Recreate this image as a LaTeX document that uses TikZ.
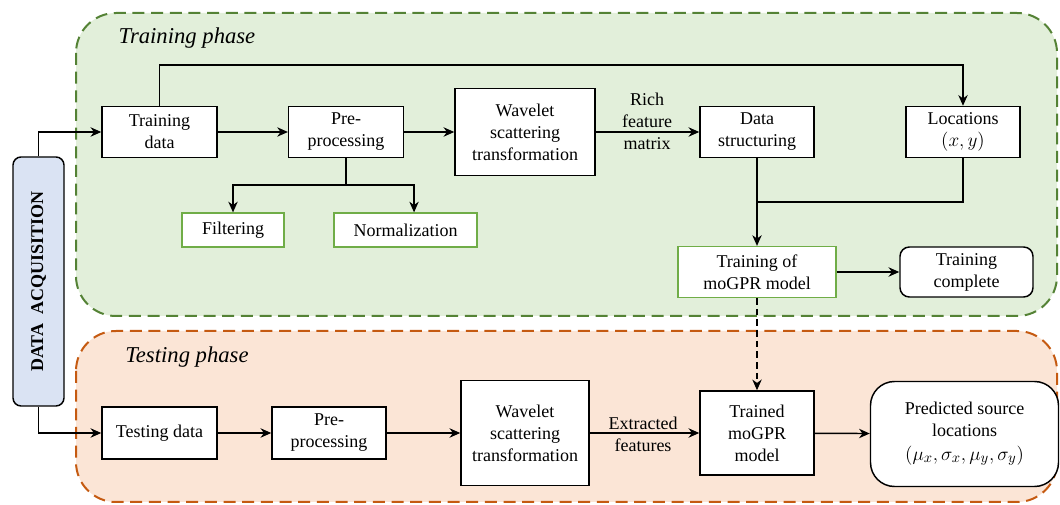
\documentclass[tikz,border=0pt]{standalone}
\usepackage{fontspec}
\setmainfont{Liberation Serif}
\usetikzlibrary{arrows.meta}
\definecolor{trainfill}{HTML}{E2EFDA}
\definecolor{traindraw}{HTML}{548235}
\definecolor{testfill}{HTML}{FBE5D6}
\definecolor{testdraw}{HTML}{C55A11}
\definecolor{acqfill}{HTML}{DAE3F3}
\definecolor{subdraw}{HTML}{70AD47}
\tikzset{
  phase/.style={line width=1.5pt, dash pattern=on 9pt off 5pt, rounded corners=30pt},
  blk/.style={draw=black, fill=white, line width=1.1pt, align=center, inner sep=2pt,
    font=\fontsize{13.5}{16.5}\selectfont},
  subblk/.style={blk, draw=subdraw, line width=0.9pt},
  endblk/.style={blk, rounded corners=7pt},
  conn/.style={line width=1.1pt, -{Stealth[length=8pt,width=7pt,inset=2.5pt]}},
  wire/.style={line width=1.1pt},
  lbl/.style={align=center, font=\fontsize{13.5}{16.5}\selectfont},
  ttl/.style={font=\fontsize{17}{20}\selectfont\itshape},
}
\begin{document}
\begin{tikzpicture}[x=0.75pt,y=-0.75pt]
\useasboundingbox (0,0) rectangle (1060,505);

% phase panels
\draw[phase, draw=traindraw, fill=trainfill] (76,13) rectangle (1057,316);
\draw[phase, draw=testdraw, fill=testfill] (76,331) rectangle (1057,502);
\node[ttl] (ttrain) at (187,38) {Training phase};
\node[ttl] (ttest) at (187,357) {Testing phase};

% data acquisition
\node[draw=black, fill=acqfill, line width=1.1pt, rounded corners=6pt,
  minimum width=38.25pt, minimum height=186.75pt, inner sep=0pt,
  font=\fontsize{13.5}{16.5}\selectfont\bfseries] (da) at (38.5,281.5)
  {\rotatebox{90}{DATA\ \ ACQUISITION}};

% training row
\node[blk, minimum width=86.25pt, minimum height=38.25pt] (train) at (159.5,132) {Training\\data};
\node[blk, minimum width=86pt, minimum height=38.25pt] (prep) at (346,132) {Pre-\\processing};
\node[blk, minimum width=105pt, minimum height=65.25pt] (wst) at (525,132) {Wavelet\\scattering\\transformation};
\node[blk, minimum width=85.5pt, minimum height=38.25pt] (dstruct) at (757,132) {Data\\structuring};
\node[blk, minimum width=85.5pt, minimum height=38.25pt] (loc) at (963,132) {Locations\\$(x,y)$};
\node[subblk, minimum width=76.5pt, minimum height=25.5pt] (filt) at (233,230) {Filtering};
\node[subblk, minimum width=107.25pt, minimum height=25.5pt] (norm) at (405.5,230) {Normalization};
\node[subblk, minimum width=118.5pt, minimum height=38.25pt] (trmod) at (757,272) {Training of\\moGPR model};
\node[endblk, minimum width=99.75pt, minimum height=37.5pt] (trcomp) at (966.5,272) {Training\\complete};

% testing row
\node[blk, minimum width=86.25pt, minimum height=39pt] (tdata) at (159.5,433) {Testing data};
\node[blk, minimum width=85.5pt, minimum height=39pt] (tprep) at (329,433) {Pre-\\processing};
\node[blk, minimum width=96pt, minimum height=78.75pt] (twst) at (525,433) {Wavelet\\scattering\\transformation};
\node[blk, minimum width=85.5pt, minimum height=63pt] (tmod) at (757,433) {Trained\\moGPR\\model};
\node[endblk, rounded corners=18pt, minimum width=141pt, minimum height=78.75pt] (pred) at (964.5,434)
  {Predicted source\\locations\\[1pt]{\fontsize{15.5}{18}\selectfont$(\mu_x,\sigma_x,\mu_y,\sigma_y)$}};

% helper points
\coordinate (top) at (500,65);
\coordinate (split) at (346,185);
\coordinate (merge) at (757,202);

% training connectors
\draw[conn] (da.north) |- (train.west);
\draw[conn] (train) -- (prep);
\draw[conn] (prep) -- (wst);
\draw[conn] (wst) -- (dstruct);
\node[lbl] (rfm) at (647,121) {Rich\\feature\\matrix};
\draw[conn] (train.north) |- (top) -| (loc.north);
\draw[wire] (prep.south) -- (split);
\draw[conn] (split) -| (filt.north);
\draw[conn] (split) -| ([xshift=6.4pt]norm.north);
\draw[wire] (loc.south) |- (merge);
\draw[conn] (dstruct.south) -- (trmod.north);
\draw[conn] (trmod) -- (trcomp);
\draw[conn, dash pattern=on 5pt off 3pt] (trmod.south) -- (tmod.north);

% testing connectors
\draw[conn] (da.south) |- (tdata.west);
\draw[conn] (tdata) -- (tprep);
\draw[conn] (tprep) -- (twst);
\draw[conn] (twst) -- (tmod);
\node[lbl] (ef) at (643,434) {Extracted\\features};
\draw[conn] (tmod) -- (pred);
\end{tikzpicture}
\end{document}
